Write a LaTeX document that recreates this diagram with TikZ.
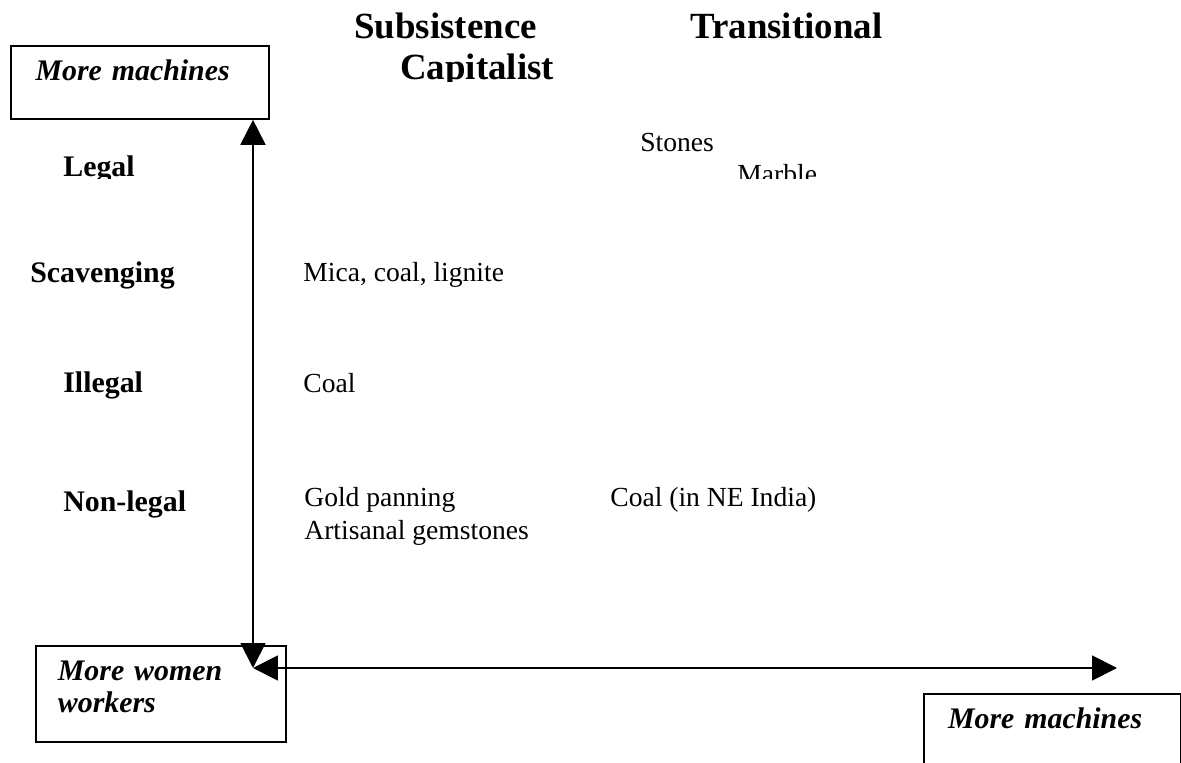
\documentclass[tikz,border=0pt]{standalone}
\usepackage{fontspec}
\setmainfont{Liberation Serif}
\usetikzlibrary{arrows.meta}
\tikzset{
    every node/.style={inner sep=0pt},
    heading/.style={anchor=base west, font=\fontsize{21}{25}\selectfont\bfseries},
    rowlabel/.style={anchor=base west, font=\fontsize{17}{20}\selectfont\bfseries},
    entry/.style={anchor=base west, font=\fontsize{15.7}{19}\selectfont},
    endbox/.style={draw, line width=1.1pt, anchor=north west, align=left,
        inner ysep=0pt, text height=19.9pt,
        font=\fontsize{17}{18.2}\selectfont\bfseries\itshape},
    axis/.style={line width=1.1pt,
        {Triangle[length=0.5cm, width=0.5cm]}-{Triangle[length=0.5cm, width=0.5cm]}},
}

\begin{document}
\begin{tikzpicture}[x=0.02cm, y=-0.02cm]
            \useasboundingbox (0, 0) rectangle (1181, 763);
            \clip (0, 0) rectangle (1181, 763);
            \node[heading] (subsistence) at (354, 39) {Subsistence};
            \begin{scope}
                \clip (350, 45) rectangle (570, 82);
                \node[heading] (capitalist) at (400, 80) {Capitalist};
            \end{scope}
            \node[heading] (transitional) at (690, 39) {Transitional};
            \node[endbox, inner xsep=14pt, text width=118.8pt, text depth=21.6pt]
                (topbox) at (10, 45) {More machines};
            \begin{scope}
                \clip (50, 140) rectangle (150, 179);
                \node[rowlabel] (legal) at (63, 177) {Legal};
            \end{scope}
            \node[entry] (stones) at (640, 152) {Stones};
            \begin{scope}
                \clip (720, 150) rectangle (840, 179);
                \node[entry] (marble) at (737, 184) {Marble};
            \end{scope}
            \node[rowlabel] (scavenging) at (30, 283) {Scavenging};
            \node[entry] (mica) at (303, 282) {Mica, coal, lignite};
            \node[rowlabel] (illegal) at (63, 393) {Illegal};
            \node[entry] (coal) at (303, 393) {Coal};
            \node[rowlabel] (nonlegal) at (63, 512) {Non-legal};
            \node[entry] (gold) at (304, 507) {Gold panning};
            \node[entry] (gems) at (304, 540) {Artisanal gemstones};
            \node[entry] (necoal) at (610, 507) {Coal (in NE India)};
            \node[endbox, inner xsep=12.5pt, text width=117.3pt, text depth=34.7pt]
                (womenbox) at (35, 645) {More women\\workers};
            \node[endbox, inner xsep=13.7pt, text width=118.8pt, text depth=31.3pt]
                (machbox) at (923, 693) {More machines};
            \coordinate (origin) at (253, 668);
            \coordinate (xend) at (1117, 668);
            \draw[axis] (topbox.south -| origin) -- (origin);
            \draw[axis] (origin) -- (xend);
        \end{tikzpicture}
\end{document}
